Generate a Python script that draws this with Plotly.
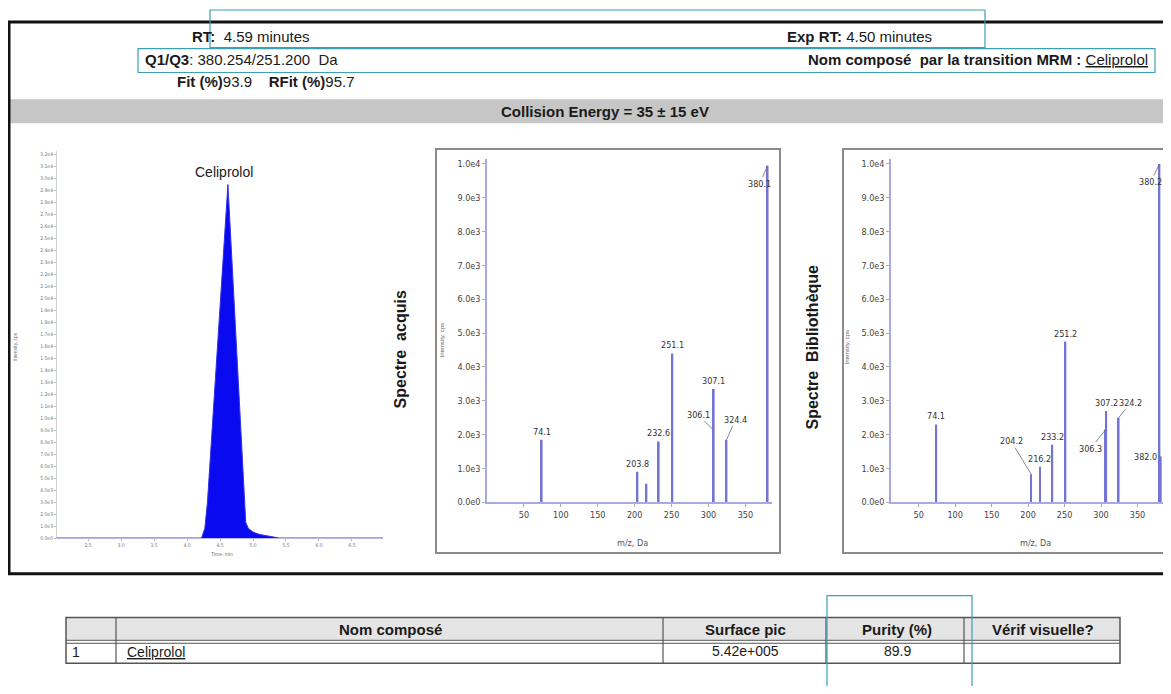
import plotly.graph_objects as go

# ---------------- DATA ----------------
# Chromatogram (XIC) of Celiprolol
chrom_time = [2.03, 4.22, 4.27, 4.31, 4.62, 4.89, 4.93, 5.00, 5.10, 5.25, 5.40, 6.97]
chrom_intensity = [0, 0, 800, 3000, 29500, 1300, 800, 500, 300, 120, 0, 0]
chrom_ytick_vals = list(range(0, 33000, 1000))
chrom_xtick_vals = [2.5, 3.0, 3.5, 4.0, 4.5, 5.0, 5.5, 6.0, 6.5]

# Acquired spectrum
spec1_mz = [74.1, 203.8, 216.0, 232.6, 251.1, 306.1, 307.1, 324.4, 380.1]
spec1_int = [1850, 900, 550, 1800, 4400, 2150, 3350, 1850, 9950]
spec1_labels = ["74.1", "203.8", "", "232.6", "251.1", "306.1", "307.1", "324.4", "380.1"]

# Library spectrum
spec2_mz = [74.1, 204.2, 216.2, 233.2, 251.2, 306.3, 307.2, 324.2, 380.2, 382.0]
spec2_int = [2300, 830, 1050, 1700, 4750, 2150, 2700, 2500, 10000, 1350]
spec2_labels = ["74.1", "204.2", "216.2", "233.2", "251.2", "306.3", "307.2", "324.2", "380.2", "382.0"]

spec_ytick_vals = [0, 1000, 2000, 3000, 4000, 5000, 6000, 7000, 8000, 9000, 10000]
spec_ytick_text = ["0.0e0", "1.0e3", "2.0e3", "3.0e3", "4.0e3", "5.0e3", "6.0e3",
                   "7.0e3", "8.0e3", "9.0e3", "1.0e4"]
spec_xtick_vals = [50, 100, 150, 200, 250, 300, 350]

# Table
table_headers = ["", "Nom composé", "Surface pic", "Purity (%)", "Vérif visuelle?"]
table_row = ["1", "Celiprolol", "5.42e+005", "89.9", ""]

# Header info
rt_value = "4.59"
exp_rt_value = "4.50"
q1q3 = "380.254/251.200"
fit_value = "93.9"
rfit_value = "95.7"
compound = "Celiprolol"

# ---------------- LAYOUT HELPERS ----------------
OFF = 8  # page body margin
W, H = 1171 - 2 * OFF, 694 - 2 * OFF
def px(x):
    return (x - OFF) / W
def py(y):
    return 1 - (y - OFF) / H

FONT = "Liberation Sans, Arial, sans-serif"
NARROW = "Liberation Sans Narrow, Arial Narrow, DejaVu Sans Condensed, sans-serif"

def chrom_label(v):
    if v == 0:
        return "0.0e0"
    if v < 10000:
        return f"{v/1000:.1f}e3"
    return f"{v/10000:.1f}e4"

fig = go.Figure()

# Chromatogram
fig.add_trace(go.Scatter(x=chrom_time, y=chrom_intensity, mode="lines",
                         line=dict(color="#3030e8", width=1),
                         fill="tozeroy", fillcolor="#0a0af0",
                         xaxis="x", yaxis="y", hoverinfo="skip"))

# Spectra bars
fig.add_trace(go.Bar(x=spec1_mz, y=spec1_int, width=2.4,
                     marker=dict(color="#7474d6", line=dict(width=0)),
                     xaxis="x2", yaxis="y2"))
fig.add_trace(go.Bar(x=spec2_mz, y=spec2_int, width=2.4,
                     marker=dict(color="#7474d6", line=dict(width=0)),
                     xaxis="x3", yaxis="y3"))

tickfont_small = dict(family=NARROW, size=5, color="#777")
tickfont_spec = dict(family=NARROW, size=9, color="#444")

layout = dict(
    width=W, height=H,
    margin=dict(l=0, r=0, t=0, b=0),
    paper_bgcolor="white", plot_bgcolor="white",
    showlegend=False,
    font=dict(family=FONT, color="#111"),
    xaxis=dict(domain=[px(57), px(383)], range=[2.03, 6.97],
               tickvals=chrom_xtick_vals, ticktext=[f"{v:.1f}" for v in chrom_xtick_vals],
               tickfont=tickfont_small, ticks="outside", ticklen=2, tickcolor="#bbb",
               showline=True, linecolor="#b8b8e8", linewidth=1, showgrid=False, zeroline=False,
               anchor="y"),
    yaxis=dict(domain=[py(542), py(152)], range=[0, 32300],
               tickvals=chrom_ytick_vals, ticktext=[chrom_label(v) for v in chrom_ytick_vals],
               tickfont=tickfont_small, ticks="outside", ticklen=2, tickcolor="#bbb",
               showline=True, linecolor="#cfcfcf", linewidth=1, showgrid=False, zeroline=False,
               anchor="x"),
    xaxis2=dict(domain=[px(487), px(772)], range=[0, 386],
                tickvals=spec_xtick_vals, tickfont=tickfont_spec, ticks="outside",
                ticklen=3, tickcolor="#aaa", showline=True, linecolor="#a8a8e6",
                linewidth=1.5, showgrid=False, zeroline=False, anchor="y2"),
    yaxis2=dict(domain=[py(506), py(160)], range=[0, 10150],
                tickvals=spec_ytick_vals, ticktext=spec_ytick_text, tickfont=tickfont_spec,
                ticks="outside", ticklen=3, tickcolor="#aaa", showline=True,
                linecolor="#a8a8e6", linewidth=1.5, showgrid=False, zeroline=False, anchor="x2"),
    xaxis3=dict(domain=[px(891), 1.0], range=[12, 385],
                tickvals=spec_xtick_vals, tickfont=tickfont_spec, ticks="outside",
                ticklen=3, tickcolor="#aaa", showline=True, linecolor="#a8a8e6",
                linewidth=1.5, showgrid=False, zeroline=False, anchor="y3"),
    yaxis3=dict(domain=[py(506), py(160)], range=[0, 10150],
                tickvals=spec_ytick_vals, ticktext=spec_ytick_text, tickfont=tickfont_spec,
                ticks="outside", ticklen=3, tickcolor="#aaa", showline=True,
                linecolor="#a8a8e6", linewidth=1.5, showgrid=False, zeroline=False, anchor="x3"),
)
fig.update_layout(**layout)

shapes = []
def rect(x0, y0, x1, y1, color, width=1, fill=None, layer="above"):
    d = dict(type="rect", xref="paper", yref="paper",
             x0=px(x0), x1=px(x1), y0=py(y1), y1=py(y0),
             line=dict(color=color, width=width), layer=layer)
    if fill:
        d["fillcolor"] = fill
    if width == 0:
        d["line"] = dict(width=0)
    shapes.append(d)

def hline(x0, x1, y, color, width=1):
    shapes.append(dict(type="line", xref="paper", yref="paper",
                       x0=px(x0), x1=px(x1), y0=py(y), y1=py(y),
                       line=dict(color=color, width=width)))

def vline(x, y0, y1, color, width=1):
    shapes.append(dict(type="line", xref="paper", yref="paper",
                       x0=px(x), x1=px(x), y0=py(y0), y1=py(y1),
                       line=dict(color=color, width=width)))

# Gray band
rect(8, 100, 1175, 124, "#c8c8c8", width=0, fill="#c6c6c6", layer="below")
# Main border
rect(9, 22, 1190, 578, "#111", width=3, layer="below")
# Spectrum boxes
rect(436, 150, 780, 557, "#8a8a8a", width=2, layer="below")
rect(843, 150, 1195, 557, "#8a8a8a", width=2, layer="below")

# Table
rect(66, 622, 1120, 645, "#e4e4e4", width=0, fill="#e4e4e4", layer="below")
rect(66, 622, 1120, 668, "#555", width=1.5)
hline(66, 1120, 645, "#555", 1)
hline(66, 1120, 648, "#555", 1)
for cx in [116, 663, 826, 964]:
    vline(cx, 622, 668, "#555", 1.2)

# Teal boxes
TEAL = "#3d9fb3"
rect(210, 10, 985, 48, TEAL, width=1.2)
rect(138, 49, 1155, 73, TEAL, width=1.2)
rect(827, 600, 972, 700, TEAL, width=1.2)

fig.update_layout(shapes=shapes)

ann = []
def text(x, y, s, size=15, xanchor="left", color="#1a1a1a", family=FONT, textangle=0):
    ann.append(dict(xref="paper", yref="paper", x=px(x), y=py(y), text=s,
                    showarrow=False, xanchor=xanchor, yanchor="middle",
                    font=dict(family=family, size=size, color=color), textangle=textangle))

# Header texts
text(190, 37, f"<b>RT:</b>  {rt_value} minutes", 15)
text(785, 37, f"<b>Exp RT:</b> {exp_rt_value} minutes", 15)
text(143, 60, f"<b>Q1/Q3</b>: {q1q3}  Da", 15)
text(1150, 60, f"<b>Nom composé  par la transition MRM :</b> <u>{compound}</u>", 15, xanchor="right")
text(175, 82, f"<b>Fit (%)</b>{fit_value}    <b>RFit (%)</b>{rfit_value}", 15)
text(605, 112, "<b>Collision Energy = 35 ± 15 eV</b>", 15, xanchor="center")

# Chromatogram texts
text(224, 173, compound, 14, xanchor="center", color="#222")
text(15, 350, "Intensity, cps", 5, xanchor="center", color="#777", textangle=-90)
text(222, 558, "Time, min", 5, xanchor="center", color="#777")

# Spectra titles
text(400, 352, "<b>Spectre  acquis</b>", 16, xanchor="center", textangle=-90)
text(812, 350, "<b>Spectre  Bibliothèque</b>", 16, xanchor="center", textangle=-90)
text(442, 343, "Intensity, cps", 6, xanchor="center", color="#666", textangle=-90)
text(847, 350, "Intensity, cps", 6, xanchor="center", color="#666", textangle=-90)
text(632, 547, "m/z, Da", 9, xanchor="center", color="#555", family=NARROW)
text(1035, 547, "m/z, Da", 9, xanchor="center", color="#555", family=NARROW)

# Peak labels (offsets are styling only)
offsets1 = {"306.1": (-15, -15), "324.4": (9, -20), "380.1": (-8, 18)}
offsets2 = {"204.2": (-20, -33), "306.3": (-15, 19), "324.2": (12, -15),
            "380.2": (-9, 18), "382.0": (-15, 0)}

def peak_labels(mzs, ints, labels, offsets, xr, yr):
    for m, v, lab in zip(mzs, ints, labels):
        if not lab:
            continue
        f = dict(family=NARROW, size=9, color="#333")
        if lab in offsets:
            ax, ay = offsets[lab]
            ann.append(dict(xref=xr, yref=yr, x=m, y=v, text=lab, showarrow=True,
                            arrowhead=0, arrowwidth=0.8, arrowcolor="#666",
                            ax=ax, ay=ay, font=f, standoff=0))
        else:
            ann.append(dict(xref=xr, yref=yr, x=m, y=v, text=lab, showarrow=False,
                            yanchor="bottom", yshift=1, font=f))

peak_labels(spec1_mz, spec1_int, spec1_labels, offsets1, "x2", "y2")
peak_labels(spec2_mz, spec2_int, spec2_labels, offsets2, "x3", "y3")

# Table texts
header_x = [None, 390, 745, 897, 1043]
for hx, h in zip(header_x, table_headers):
    if hx and h:
        text(hx, 634, f"<b>{h}</b>", 15, xanchor="center")
text(70, 657, table_row[0], 14)
text(125, 657, f"<u>{table_row[1]}</u>", 14)
text(745, 656, table_row[2], 14, xanchor="center")
text(897, 656, table_row[3], 14, xanchor="center")

fig.update_layout(annotations=ann)

fig.write_html("out.html")
